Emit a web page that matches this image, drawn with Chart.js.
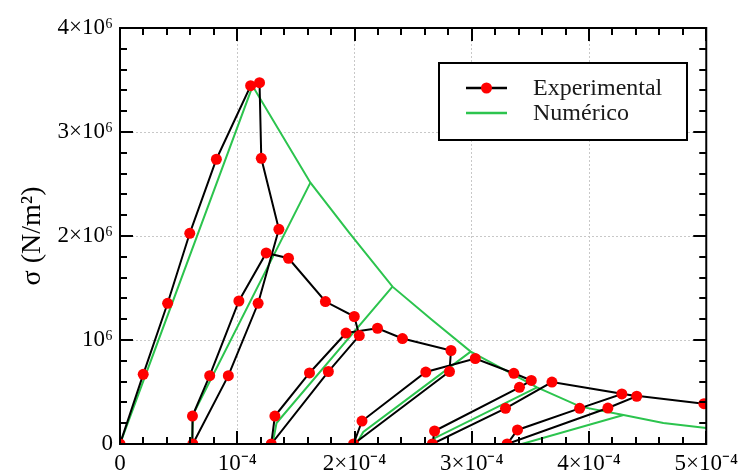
<!DOCTYPE html>
<html>
<head>
<meta charset="utf-8">
<script src="https://cdn.jsdelivr.net/npm/chart.js@4/dist/chart.umd.min.js"></script>
<style>
  html, body { margin: 0; padding: 0; background: #ffffff; }
  #wrap { width: 744px; height: 474px; }
</style>
</head>
<body>
<div id="wrap"><canvas id="c" width="744" height="474"></canvas></div>
<script>
// Measured cyclic response: strain (-) and stress (N/m^2), in loading order
const expStrain = [
  0, 0.198e-4, 0.406e-4, 0.595e-4, 0.822e-4, 1.114e-4, 1.190e-4,
  1.205e-4, 1.355e-4, 1.178e-4, 0.924e-4, 0.621e-4,
  0.618e-4, 0.765e-4, 1.014e-4, 1.247e-4, 1.437e-4, 1.752e-4, 1.998e-4,
  2.041e-4, 1.777e-4, 1.290e-4,
  1.321e-4, 1.616e-4, 1.928e-4, 2.196e-4, 2.409e-4, 2.823e-4,
  2.810e-4, 1.992e-4,
  2.064e-4, 2.608e-4, 3.030e-4, 3.359e-4, 3.508e-4,
  3.407e-4, 2.683e-4, 2.664e-4,
  3.288e-4, 3.684e-4, 4.407e-4,
  4.161e-4, 3.302e-4,
  3.390e-4, 3.920e-4, 4.280e-4, 4.980e-4
];
const expStress = [
  0, 0.670e6, 1.353e6, 2.026e6, 2.738e6, 3.445e6, 3.474e6,
  2.747e6, 2.064e6, 1.353e6, 0.657e6, 0,
  0.269e6, 0.657e6, 1.375e6, 1.837e6, 1.786e6, 1.370e6, 1.226e6,
  1.043e6, 0.697e6, 0,
  0.269e6, 0.683e6, 1.067e6, 1.113e6, 1.014e6, 0.899e6,
  0.697e6, 0,
  0.221e6, 0.692e6, 0.822e6, 0.680e6, 0.611e6,
  0.545e6, 0.125e6, 0,
  0.343e6, 0.596e6, 0.459e6,
  0.346e6, 0,
  0.135e6, 0.343e6, 0.481e6, 0.388e6
];

// Numerical model: loading branch and softening envelope
const numEnvStrain = [0, 1.131e-4, 1.624e-4, 1.956e-4, 2.324e-4, 2.662e-4, 2.991e-4, 3.557e-4, 3.926e-4, 4.294e-4, 4.634e-4, 5.0e-4];
const numEnvStress = [0, 3.442e6, 2.513e6, 2.029e6, 1.513e6, 1.192e6, 0.888e6, 0.545e6, 0.359e6, 0.279e6, 0.202e6, 0.154e6];

// Numerical model: unloading branches from the envelope
const numUnload1Strain = [1.624e-4, 0.625e-4, 0.612e-4];
const numUnload1Stress = [2.513e6, 0.288e6, 0];
const numUnload2Strain = [2.324e-4, 1.335e-4, 1.301e-4];
const numUnload2Stress = [1.513e6, 0.202e6, 0];
const numUnload3Strain = [2.991e-4, 2.075e-4, 2.015e-4];
const numUnload3Stress = [0.888e6, 0.115e6, 0];
const numUnload4Strain = [3.557e-4, 2.687e-4, 2.670e-4];
const numUnload4Stress = [0.545e6, 0.058e6, 0];
const numUnload5Strain = [4.294e-4, 3.427e-4];
const numUnload5Stress = [0.279e6, 0];

// Axis ticks
const xTickValues = [0, 1e-4, 2e-4, 3e-4, 4e-4, 5e-4];
const xTickLabels = ['0', '10\u207B\u2074', '2\u00D710\u207B\u2074', '3\u00D710\u207B\u2074', '4\u00D710\u207B\u2074', '5\u00D710\u207B\u2074'];
const yTickValues = [0, 1e6, 2e6, 3e6, 4e6];
const yTickLabels = ['0', '10\u2076', '2\u00D710\u2076', '3\u00D710\u2076', '4\u00D710\u2076'];

const SERIF = '"Liberation Serif", "Times New Roman", serif';
const GREEN = '#2cc44e';

const pts = (xs, ys) => xs.map((x, i) => ({ x: x, y: ys[i] }));

const greenBranch = (xs, ys, label) => ({
  label: label,
  data: pts(xs, ys),
  showLine: true,
  borderColor: GREEN,
  borderWidth: 2,
  pointRadius: 0,
  pointHoverRadius: 0,
  order: 2
});

// Inward major/minor ticks on all four sides plus the plot frame
const frameTicks = {
  id: 'frameTicks',
  afterDatasetsDraw(chart) {
    const { ctx, chartArea: a, scales } = chart;
    const xs = scales.x, ys = scales.y;
    ctx.save();
    ctx.strokeStyle = '#000';
    ctx.lineWidth = 2;
    ctx.lineCap = 'butt';
    ctx.beginPath();
    const minorX = 0.2e-4, minorY = 0.2e6;
    for (let i = 0; i <= 25; i++) {
      const px = Math.round(xs.getPixelForValue(i * minorX));
      const len = (i % 5 === 0) ? 13 : 7;
      ctx.moveTo(px, a.bottom); ctx.lineTo(px, a.bottom - len);
      ctx.moveTo(px, a.top); ctx.lineTo(px, a.top + len);
    }
    for (let i = 0; i <= 20; i++) {
      const py = Math.round(ys.getPixelForValue(i * minorY));
      const len = (i % 5 === 0) ? 13 : 7;
      ctx.moveTo(a.left, py); ctx.lineTo(a.left + len, py);
      ctx.moveTo(a.right, py); ctx.lineTo(a.right - len, py);
    }
    ctx.stroke();
    ctx.strokeRect(a.left, a.top, a.right - a.left, a.bottom - a.top);
    ctx.restore();
  }
};

// Boxed legend in the upper right of the plot
const boxLegend = {
  id: 'boxLegend',
  afterDraw(chart) {
    const { ctx } = chart;
    const ds = chart.data.datasets;
    const bx = 439, by = 63, bw = 248, bh = 77;
    ctx.save();
    ctx.fillStyle = '#fff';
    ctx.fillRect(bx, by, bw, bh);
    ctx.strokeStyle = '#000';
    ctx.lineWidth = 2;
    ctx.strokeRect(bx, by, bw, bh);
    [ds[0], ds[1]].forEach((d, i) => {
      const cy = by + 25 + i * 25;
      ctx.strokeStyle = d.borderColor;
      ctx.lineWidth = 2.5;
      ctx.beginPath();
      ctx.moveTo(466, cy); ctx.lineTo(507, cy);
      ctx.stroke();
      if (d.pointRadius > 0) {
        ctx.fillStyle = d.pointBackgroundColor;
        ctx.beginPath();
        ctx.arc(486.5, cy, 5.5, 0, Math.PI * 2);
        ctx.fill();
      }
      ctx.fillStyle = '#1a1a1a';
      ctx.font = '24px ' + SERIF;
      ctx.textBaseline = 'middle';
      ctx.textAlign = 'left';
      ctx.fillText(d.label, 533, cy + 1);
    });
    ctx.restore();
  }
};

new Chart(document.getElementById('c'), {
  type: 'scatter',
  data: {
    datasets: [
      {
        label: 'Experimental',
        data: pts(expStrain, expStress),
        showLine: true,
        borderColor: '#000',
        borderWidth: 2,
        pointRadius: 5.5,
        pointBackgroundColor: '#ff0000',
        pointBorderWidth: 0,
        pointBorderColor: '#ff0000',
        order: 1
      },
      greenBranch(numEnvStrain, numEnvStress, 'Numérico'),
      greenBranch(numUnload1Strain, numUnload1Stress, 'Numérico'),
      greenBranch(numUnload2Strain, numUnload2Stress, 'Numérico'),
      greenBranch(numUnload3Strain, numUnload3Stress, 'Numérico'),
      greenBranch(numUnload4Strain, numUnload4Stress, 'Numérico'),
      greenBranch(numUnload5Strain, numUnload5Stress, 'Numérico')
    ]
  },
  options: {
    responsive: false,
    devicePixelRatio: 1,
    animation: false,
    events: [],
    layout: { padding: { left: 0, right: 36, top: 28, bottom: 0 } },
    plugins: {
      legend: { display: false },
      tooltip: { enabled: false }
    },
    scales: {
      x: {
        type: 'linear',
        min: 0,
        max: 5e-4,
        afterBuildTicks: (s) => { s.ticks = xTickValues.map(v => ({ value: v })); },
        afterFit: (s) => { s.height = 30; },
        grid: { color: '#c8c8c8', lineWidth: 1, drawTicks: false },
        border: { display: false, dash: [2, 2] },
        ticks: {
          padding: 6,
          color: '#000',
          maxRotation: 0,
          autoSkip: false,
          font: { family: SERIF, size: 23 },
          callback: (v, i) => xTickLabels[i]
        }
      },
      y: {
        type: 'linear',
        min: 0,
        max: 4e6,
        afterBuildTicks: (s) => { s.ticks = yTickValues.map(v => ({ value: v })); },
        afterFit: (s) => { s.width = 120; },
        grid: { color: '#c8c8c8', lineWidth: 1, drawTicks: false },
        border: { display: false, dash: [2, 2] },
        title: {
          display: true,
          text: 'σ (N/m²)',
          color: '#000',
          font: { family: SERIF, size: 28 },
          padding: { top: 16, bottom: 0 }
        },
        ticks: {
          padding: 7,
          color: '#000',
          autoSkip: false,
          font: { family: SERIF, size: 23 },
          callback: (v, i) => yTickLabels[i]
        }
      }
    }
  },
  plugins: [frameTicks, boxLegend]
});
</script>
</body>
</html>
